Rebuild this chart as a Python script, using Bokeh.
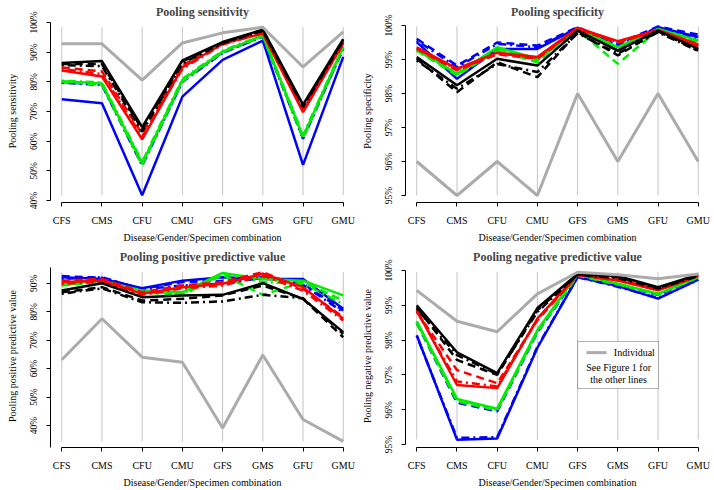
from bokeh.plotting import figure
from bokeh.layouts import gridplot
from bokeh.models import FixedTicker, Range1d, Label, BoxAnnotation, PrintfTickFormatter
from bokeh.embed import file_html
from bokeh.resources import INLINE

categories = ["CFS", "CMS", "CFU", "CMU", "GFS", "GMS", "GFU", "GMU"]

# ---------------- Pooling sensitivity (%) ----------------
sens_individual    = [92.8, 92.8, 80.6, 93.1, 96.5, 98.4, 85.0, 96.8]
sens_black_solid   = [86.3, 87.0, 64.7, 87.2, 93.4, 97.6, 72.3, 94.4]
sens_black_dashed  = [86.0, 86.0, 64.0, 86.8, 93.2, 97.4, 72.0, 94.2]
sens_black_dotdash = [85.6, 85.3, 63.2, 86.2, 93.0, 97.2, 71.5, 93.8]
sens_red_solid     = [83.8, 81.8, 60.6, 84.9, 92.8, 96.3, 69.8, 93.0]
sens_red_dashed    = [84.8, 83.5, 62.5, 85.5, 93.0, 96.8, 70.8, 93.4]
sens_red_dotdash   = [84.3, 82.6, 61.5, 84.4, 92.6, 96.5, 70.3, 92.8]
sens_green_solid   = [80.2, 79.4, 52.5, 80.6, 90.2, 95.6, 61.5, 91.8]
sens_green_dashed  = [80.0, 79.0, 52.0, 80.2, 90.0, 95.4, 61.0, 91.5]
sens_green_dotdash = [80.4, 79.8, 53.0, 81.0, 90.4, 95.8, 62.0, 92.0]
sens_blue_solid    = [74.1, 72.8, 41.8, 75.0, 87.4, 93.9, 52.0, 88.4]
sens_blue_dashed   = [79.9, 79.1, 52.2, 80.3, 89.9, 95.4, 61.2, 91.4]
sens_blue_dotdash  = [79.7, 78.9, 51.8, 80.0, 89.7, 95.2, 60.8, 91.2]

# ---------------- Pooling specificity (%) ----------------
spec_individual    = [96.0, 95.0, 96.0, 95.0, 98.0, 96.0, 98.0, 96.0]
spec_black_solid   = [99.07, 98.24, 99.02, 98.82, 99.85, 99.26, 99.85, 99.31]
spec_black_dashed  = [99.02, 98.04, 98.92, 98.48, 99.80, 99.12, 99.83, 99.26]
spec_black_dotdash = [98.97, 98.14, 98.87, 98.63, 99.77, 99.17, 99.80, 99.25]
spec_red_solid     = [99.36, 98.73, 99.20, 99.07, 99.93, 99.54, 99.87, 99.44]
spec_red_dashed    = [99.31, 98.68, 99.15, 99.02, 99.90, 99.49, 99.84, 99.39]
spec_red_dotdash   = [99.33, 98.70, 99.18, 99.05, 99.91, 99.51, 99.85, 99.41]
spec_green_solid   = [99.31, 98.58, 99.36, 99.02, 99.90, 99.36, 99.90, 99.56]
spec_green_dashed  = [99.26, 98.53, 99.26, 98.92, 99.87, 98.87, 99.87, 99.51]
spec_green_dotdash = [99.28, 98.56, 99.31, 98.97, 99.89, 99.26, 99.89, 99.54]
spec_blue_solid    = [99.51, 98.43, 99.31, 99.31, 99.93, 99.26, 99.95, 99.66]
spec_blue_dashed   = [99.61, 98.82, 99.50, 99.41, 99.95, 99.46, 99.97, 99.73]
spec_blue_dotdash  = [99.56, 98.77, 99.46, 99.36, 99.93, 99.41, 99.95, 99.61]

# ---------------- Pooling positive predictive value (%) ----------------
ppv_individual    = [63.1, 77.5, 64.0, 62.2, 39.1, 64.8, 42.1, 34.4]
ppv_black_solid   = [87.4, 90.0, 85.1, 85.7, 85.9, 90.0, 84.5, 72.8]
ppv_black_dashed  = [86.8, 88.6, 83.9, 84.5, 85.7, 89.2, 84.5, 71.0]
ppv_black_dotdash = [86.3, 88.2, 83.3, 83.1, 83.6, 85.9, 84.7, 72.2]
ppv_red_solid     = [90.4, 90.9, 86.3, 88.6, 89.8, 93.3, 88.6, 77.5]
ppv_red_dashed    = [90.9, 91.5, 86.8, 89.2, 90.4, 93.9, 88.0, 78.1]
ppv_red_dotdash   = [89.8, 90.6, 85.9, 88.2, 89.2, 92.7, 87.4, 76.9]
ppv_green_solid   = [89.8, 90.9, 87.4, 86.8, 93.6, 91.5, 90.9, 85.7]
ppv_green_dashed  = [89.2, 90.4, 86.8, 85.9, 92.9, 85.9, 90.4, 83.9]
ppv_green_dotdash = [89.4, 90.6, 87.1, 86.3, 93.3, 90.4, 89.8, 82.7]
ppv_blue_solid    = [92.1, 91.5, 88.2, 90.9, 92.1, 91.5, 91.5, 81.0]
ppv_blue_dashed   = [92.5, 91.9, 88.0, 90.4, 90.9, 92.1, 89.8, 80.4]
ppv_blue_dotdash  = [91.5, 92.1, 87.8, 89.2, 89.8, 91.9, 89.4, 79.8]

# ---------------- Pooling negative predictive value (%) ----------------
npv_individual    = [99.43, 98.54, 98.24, 99.33, 99.95, 99.88, 99.76, 99.90]
npv_black_solid   = [99.00, 97.65, 97.05, 98.92, 99.90, 99.84, 99.52, 99.88]
npv_black_dashed  = [98.95, 97.43, 97.00, 98.86, 99.88, 99.81, 99.50, 99.86]
npv_black_dotdash = [98.90, 97.57, 97.02, 98.81, 99.88, 99.78, 99.48, 99.84]
npv_red_solid     = [98.86, 96.71, 96.62, 98.62, 99.88, 99.71, 99.43, 99.84]
npv_red_dashed    = [98.81, 97.14, 96.76, 98.57, 99.87, 99.74, 99.46, 99.85]
npv_red_dotdash   = [98.83, 96.81, 96.67, 98.60, 99.87, 99.72, 99.44, 99.84]
npv_green_solid   = [98.54, 96.31, 96.03, 98.29, 99.90, 99.62, 99.33, 99.81]
npv_green_dashed  = [98.50, 96.24, 95.98, 98.24, 99.85, 99.60, 99.31, 99.80]
npv_green_dotdash = [98.52, 96.28, 96.00, 98.26, 99.88, 99.61, 99.32, 99.81]
npv_blue_solid    = [98.14, 95.14, 95.17, 97.78, 99.81, 99.55, 99.19, 99.74]
npv_blue_dashed   = [98.49, 96.20, 95.95, 98.22, 99.84, 99.59, 99.30, 99.79]
npv_blue_dotdash  = [98.12, 95.19, 95.21, 97.81, 99.81, 99.53, 99.21, 99.73]

# ---------------- styling ----------------
FONT = "Liberation Serif"
COLORS = {"black": "#000000", "red": "#FF0000", "green": "#00EE00", "blue": "#0000FF"}
DASHES = {"solid": "solid", "dashed": "8 5", "dotdash": "2 4 8 4"}
GRAY = "#ABABAB"
GRID = "#C4C4C4"
X = list(range(len(categories)))


def series(prefix):
    g = globals()
    out = []
    for col in ["blue", "green", "red", "black"]:
        for d in ["solid", "dashed", "dotdash"]:
            out.append((col, d, g[f"{prefix}_{col}_{d}"]))
    return out


def panel(prefix, title, ylabel, yrange, yticks, ybounds, left):
    p = figure(width=357, height=245, output_backend="svg", toolbar_location=None,
               x_range=Range1d(-0.28, 7.28), y_range=Range1d(*yrange),
               min_border_left=left, min_border_right=357 - left - 304,
               min_border_top=19, min_border_bottom=43, title=title)
    p.outline_line_color = None
    p.xgrid.visible = False
    p.ygrid.visible = False
    p.title.align = "center"
    p.title.vertical_align = "middle"
    p.title.text_font = FONT
    p.title.text_font_size = "12px"
    p.title.text_font_style = "bold"
    p.title.standoff = 0

    allvals = [v for _, _, vals in series(prefix) for v in vals] + globals()[f"{prefix}_individual"]
    lo, hi = min(allvals), max(allvals)
    p.segment(x0=X, x1=X, y0=[lo] * len(X), y1=[hi] * len(X), line_color=GRID, line_width=1)

    for col, d, vals in series(prefix):
        p.line(X, vals, line_color=COLORS[col], line_dash=DASHES[d], line_width=2.5)
    p.line(X, globals()[f"{prefix}_individual"], line_color=GRAY, line_width=3)

    xa = p.xaxis[0]
    xa.ticker = FixedTicker(ticks=X)
    xa.major_label_overrides = {i: c for i, c in enumerate(categories)}
    xa.bounds = (0, len(X) - 1)
    xa.axis_label = "Disease/Gender/Specimen combination"

    ya = p.yaxis[0]
    ya.ticker = FixedTicker(ticks=yticks)
    ya.formatter = PrintfTickFormatter(format="%d%%")
    ya.bounds = ybounds
    ya.axis_label = ylabel
    ya.major_label_orientation = "vertical"

    for ax in (xa, ya):
        ax.axis_line_color = "black"
        ax.axis_line_width = 1
        ax.major_tick_line_color = "black"
        ax.major_tick_in = 0
        ax.major_tick_out = 4
        ax.minor_tick_line_color = None
        ax.major_label_text_font = FONT
        ax.axis_label_text_font = FONT
        ax.axis_label_text_font_style = "normal"
        ax.axis_label_text_font_size = "10px"
        ax.major_label_text_color = "black"
        ax.axis_label_text_color = "black"
    xa.major_label_text_font_size = "10px"
    ya.major_label_text_font_size = "9.5px"
    xa.major_label_standoff = 8
    xa.axis_label_standoff = 3
    ya.major_label_standoff = 7
    ya.axis_label_standoff = 9
    return p


p1 = panel("sens", "Pooling sensitivity", "Pooling sensitivity",
           (39.33, 101.0), [40, 50, 60, 70, 80, 90, 100], (40, 100), 50)
p2 = panel("spec", "Pooling specificity", "Pooling specificity",
           (94.794, 100.176), [95, 96, 97, 98, 99, 100], (95, 100), 48)
p3 = panel("ppv", "Pooling positive predictive value", "Pooling positive predictive value",
           (32.27, 96.57), [40, 50, 60, 70, 80, 90], (32.4, 95.6), 50)
p4 = panel("npv", "Pooling negative predictive value", "Pooling negative predictive value",
           (94.914, 100.172), [95, 96, 97, 98, 99, 100], (95, 100), 48)

# legend box in the NPV panel
p4.add_layout(BoxAnnotation(left=4.0, right=6.01, top=97.96, bottom=96.61,
                            fill_color="white", fill_alpha=1.0,
                            line_color="black", line_width=1))
r = p4.segment(x0=[4.22], x1=[4.72], y0=[97.64], y1=[97.64], line_color=GRAY, line_width=3)
r.level = "overlay"
for txt, x, y, align in [("Individual", 4.9, 97.64, "left"),
                         ("See Figure 1 for", 5.02, 97.22, "center"),
                         ("the other lines", 5.02, 96.88, "center")]:
    p4.add_layout(Label(x=x, y=y, text=txt, text_align=align, text_baseline="middle",
                        text_font=FONT, text_font_size="10px", text_color="black",
                        level="overlay"))

grid = gridplot([[p1, p2], [p3, p4]], toolbar_location=None)
open("out.html", "w").write(file_html(grid, INLINE))
